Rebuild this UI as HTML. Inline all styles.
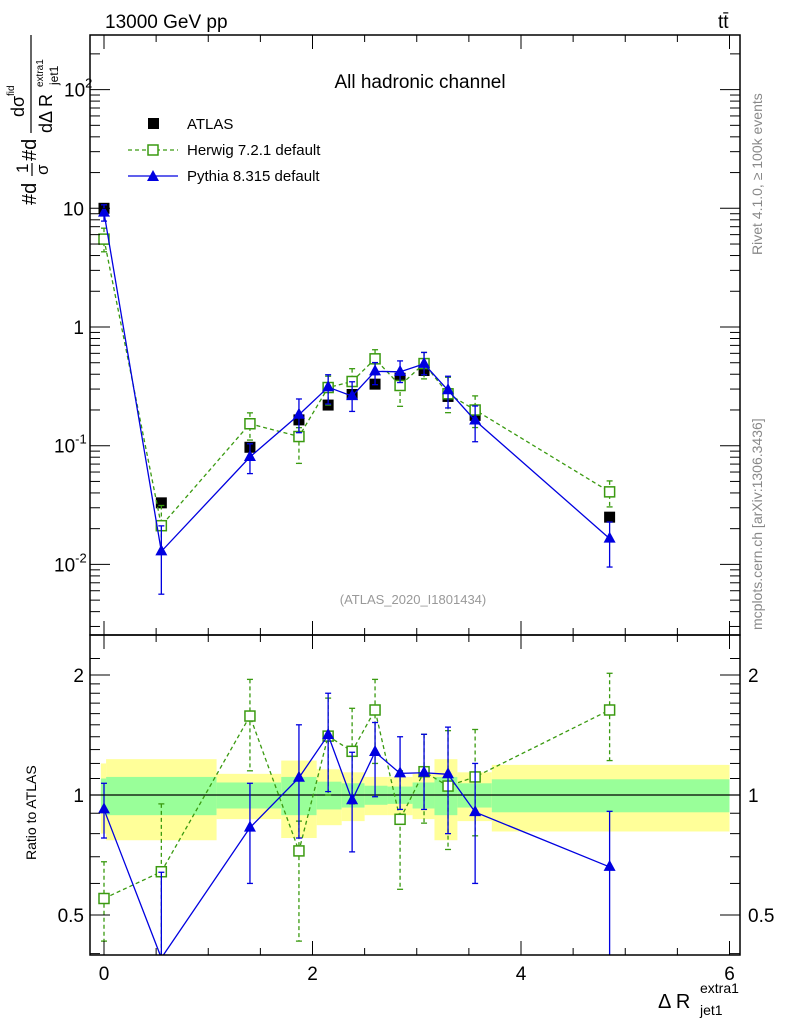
<!DOCTYPE html>
<html><head><meta charset="utf-8"><style>
html,body{margin:0;padding:0;background:#fff;width:786px;height:1024px;overflow:hidden;}
svg{display:block;font-family:"Liberation Sans",Arial,sans-serif;}
</style></head><body>
<svg id="c" width="786" height="1024" viewBox="0 0 786 1024">
<defs id="cdefs"></defs>
<rect x="0" y="0" width="786" height="1024" fill="#fff"/>
<g id="bands"></g>
<g id="marks"></g>
<g id="axes"></g>
<text x="105" y="28" font-size="19">13000 GeV pp</text>
<text x="718" y="28" font-size="19">tt̄</text>
<text x="420" y="88" font-size="19" text-anchor="middle">All hadronic channel</text>
<text x="413" y="604" font-size="13" fill="#999" text-anchor="middle">(ATLAS_2020_I1801434)</text>
<text transform="translate(762,255) rotate(-90)" font-size="14" fill="#888">Rivet 4.1.0, ≥ 100k events</text>
<text transform="translate(762,630) rotate(-90)" font-size="14" fill="#888">mcplots.cern.ch [arXiv:1306.3436]</text>
<g>
  <rect x="148" y="118" width="11" height="11" fill="#000"/>
  <text x="187" y="129" font-size="15">ATLAS</text>
  <line x1="128" y1="150" x2="178" y2="150" stroke="#3a9a10" stroke-width="1.3" stroke-dasharray="4,3"/>
  <rect x="148" y="145" width="10" height="10" fill="#fff" stroke="#3a9a10" stroke-width="1.5"/>
  <text x="187" y="155" font-size="15">Herwig 7.2.1 default</text>
  <line x1="128" y1="176" x2="178" y2="176" stroke="#0000e0" stroke-width="1.3"/>
  <polygon points="153,170 159,181 147,181" fill="#0000e0"/>
  <text x="187" y="181" font-size="15">Pythia 8.315 default</text>
</g>
<g transform="translate(36,205) rotate(-90)">
  <text x="0" y="0" font-size="20">#d</text>
  <text x="32" y="-8" font-size="17">1</text>
  <line x1="29" y1="-4" x2="42" y2="-4" stroke="#000" stroke-width="1.2"/>
  <text x="30" y="12" font-size="17">σ</text>
  <text x="44" y="0" font-size="20">#d</text>
  <text x="88" y="-12" font-size="18">dσ</text>
  <text x="109" y="-22" font-size="10">fid</text>
  <line x1="72" y1="-5" x2="170" y2="-5" stroke="#000" stroke-width="1.2"/>
  <text x="72" y="16" font-size="18">dΔ R</text>
  <text x="120" y="22" font-size="12">jet1</text>
  <text x="118" y="7" font-size="10">extra1</text>
</g>
<text transform="translate(36,860) rotate(-90)" font-size="14">Ratio to ATLAS</text>
<g>
  <text x="658" y="1008" font-size="20">Δ R</text>
  <text x="700" y="1015" font-size="14">jet1</text>
  <text x="700" y="993" font-size="14">extra1</text>
</g>
</svg>
<script>
var xVals=[0.0,0.55,1.4,1.87,2.15,2.38,2.6,2.84,3.07,3.3,3.56,4.85];
var binEdges=[-0.03,0.02,1.08,1.7,2.04,2.28,2.5,2.72,2.96,3.17,3.39,3.72,6.0];
var atlasVals=[10,0.033,0.097,0.165,0.22,0.27,0.33,0.37,0.43,0.26,0.18,0.025];
var statErr=[0.1,0.11,0.075,0.11,0.08,0.07,0.055,0.05,0.075,0.11,0.07,0.095];
var totErr=[0.2,0.23,0.13,0.22,0.16,0.14,0.11,0.11,0.13,0.23,0.14,0.19];
var herwigRatio=[0.55,0.642,1.578,0.724,1.405,1.287,1.634,0.869,1.144,1.053,1.11,1.634];
var herwigUp=[0.68,0.95,1.95,0.86,1.75,1.65,1.95,1.15,1.42,1.45,1.46,2.02];
var herwigDn=[0.43,0.38,1.15,0.43,1.0,0.95,1.2,0.58,0.85,0.73,0.79,1.22];
var pythiaRatio=[0.92,0.39,0.828,1.105,1.414,0.97,1.282,1.133,1.137,1.127,0.906,0.66];
var pythiaUp=[1.07,0.64,1.07,1.5,1.8,1.28,1.52,1.4,1.42,1.48,1.2,0.91];
var pythiaDn=[0.78,0.17,0.6,0.78,1.02,0.72,0.99,0.92,0.92,0.8,0.6,0.38];
var mainTickLabels=["10^2","10","1","10^-1","10^-2"];
var mainTickVals=[100,10,1,0.1,0.01];
var ratioTickVals=[2,1,0.5];
var xTickVals=[0,2,4,6];

(function(){
var NS="http://www.w3.org/2000/svg";
var PL=90,PR=740,PT=35,PMB=635,PRB=955;
function sx(v){return 104+v*104.25;}
function sy(v){return 327-118.7*Math.log10(v);}
function syr(v){return 795-120*Math.log(v)/Math.LN2;}
function mk(tag,attrs,parent){var e=document.createElementNS(NS,tag);for(var k in attrs){e.setAttribute(k,attrs[k]);}parent.appendChild(e);return e;}
function clampY(y,lo,hi){return Math.max(lo,Math.min(hi,y));}
function clipPath(pts,lo,hi){
  var d='',pen=false;
  for(var j=0;j<pts.length-1;j++){
    var ax=pts[j][0],ay=pts[j][1],bx=pts[j+1][0],by=pts[j+1][1];
    var t0=0,t1=1,dy=by-ay;
    if(dy!==0){
      var ta=(lo-ay)/dy,tb=(hi-ay)/dy;
      var tmin=Math.min(ta,tb),tmax=Math.max(ta,tb);
      t0=Math.max(t0,tmin);t1=Math.min(t1,tmax);
    } else if(ay<lo||ay>hi){pen=false;continue;}
    if(t0>t1){pen=false;continue;}
    var sxp=ax+(bx-ax)*t0,syp=ay+dy*t0,exp=ax+(bx-ax)*t1,eyp=ay+dy*t1;
    if(!pen||t0>0){d+='M'+sxp+','+syp;}
    d+=' L'+exp+','+eyp;
    pen=(t1===1);
  }
  return d;
}
var bandsG=document.getElementById('bands'),marksG=document.getElementById('marks'),axesG=document.getElementById('axes');
var i,e;
for(i=0;i<xVals.length;i++){
  var x1=sx(binEdges[i]),x2=sx(binEdges[i+1]);
  e=mk('rect',{x:x1,y:syr(1+totErr[i]),width:x2-x1,height:syr(1-totErr[i])-syr(1+totErr[i]),fill:'#ffff99'},bandsG);
  
  
  e=mk('rect',{x:x1,y:syr(1+statErr[i]),width:x2-x1,height:syr(1-statErr[i])-syr(1+statErr[i]),fill:'#99ff99'},bandsG);
  
  
}
mk('line',{x1:PL,x2:PR,y1:syr(1),y2:syr(1),stroke:'#000','stroke-width':1.3},bandsG);
function drawSeries(ratio,up,dn,color,dash,marker,nm){
  var gm=mk('g',{},marksG);
  var gr=mk('g',{},marksG);
  var mp=[],rp=[],j;
  for(j=0;j<xVals.length;j++){mp.push([sx(xVals[j]),sy(atlasVals[j]*ratio[j])]);rp.push([sx(xVals[j]),syr(ratio[j])]);}
  function st(extra){var o={stroke:color,'stroke-width':1.3,fill:'none'};if(dash){o['stroke-dasharray']=dash;}for(var k in extra){o[k]=extra[k];}return o;}
  var p=mk('path',st({d:clipPath(mp,PT,PMB)}),gm);
  
  
  p=mk('path',st({d:clipPath(rp,PMB,PRB)}),gr);
  
  
  for(j=0;j<xVals.length;j++){
    var a=atlasVals[j];
    var sets=[[gm,sy(a*up[j]),sy(a*dn[j]),mp[j][1],PT,PMB],[gr,syr(up[j]),syr(dn[j]),rp[j][1],PMB,PRB]];
    for(var s=0;s<2;s++){
      var g=sets[s][0],lo=sets[s][4],hi=sets[s][5];
      var yuRaw=sets[s][1],ydRaw=sets[s][2],yc=sets[s][3],cx=sx(xVals[j]);
      var yu=clampY(yuRaw,lo,hi),yd=clampY(ydRaw,lo,hi);
      if(yd>yu){mk('line',st({x1:cx,x2:cx,y1:yu,y2:yd}),g);}
      if(yuRaw>=lo&&yuRaw<=hi){mk('line',{x1:cx-3,x2:cx+3,y1:yu,y2:yu,stroke:color,'stroke-width':1.3},g);}
      if(ydRaw>=lo&&ydRaw<=hi){mk('line',{x1:cx-3,x2:cx+3,y1:yd,y2:yd,stroke:color,'stroke-width':1.3},g);}
      if(yc<lo||yc>hi){continue;}
      var m;
      if(marker==='sq'){m=mk('rect',{x:cx-5,y:yc-5,width:10,height:10,fill:'#fff',stroke:color,'stroke-width':1.5},g);}
      else{m=mk('polygon',{points:cx+','+(yc-7)+' '+(cx+6)+','+(yc+4)+' '+(cx-6)+','+(yc+4),fill:color},g);}
      
      
    }
  }
}
for(i=0;i<xVals.length;i++){
  e=mk('rect',{x:sx(xVals[i])-5.5,y:sy(atlasVals[i])-5.5,width:11,height:11,fill:'#000'},marksG);
  
  
}
drawSeries(herwigRatio,herwigUp,herwigDn,'#3a9a10','4,3','sq','herwig');
drawSeries(pythiaRatio,pythiaUp,pythiaDn,'#0000e0',null,'tri','pythia');
mk('rect',{x:PL,y:PT,width:PR-PL,height:PMB-PT,fill:'none',stroke:'#000','stroke-width':1.5},axesG);
mk('rect',{x:PL,y:PMB,width:PR-PL,height:PRB-PMB,fill:'none',stroke:'#000','stroke-width':1.5},axesG);
function tick(a1,b1,a2,b2){mk('line',{x1:a1,y1:b1,x2:a2,y2:b2,stroke:'#000','stroke-width':1},axesG);}
for(var k=0;k<=12;k++){
  var xx=sx(k*0.5),len=(k%4===0)?14:7;
  tick(xx,PMB,xx,PMB-len);tick(xx,PT,xx,PT+len);
  tick(xx,PRB,xx,PRB-len);tick(xx,PMB,xx,PMB+len);
}
for(i=0;i<xTickVals.length;i++){
  e=mk('text',{x:sx(xTickVals[i]),y:980,'font-size':19,'text-anchor':'middle'},axesG);
  e.textContent=String(xTickVals[i]);
  
  
}
for(var d=-3;d<=2;d++){for(var mm=1;mm<10;mm++){var yy=sy(mm*Math.pow(10,d));if(yy<PT||yy>PMB){continue;}var ln=mm===1?20:10;tick(PL,yy,PL+ln,yy);tick(PR,yy,PR-ln,yy);}}
for(i=0;i<mainTickLabels.length;i++){
  var lab=mainTickLabels[i],y0=sy(mainTickVals[i]),parts=lab.split('^');
  e=mk('text',{x:84,y:y0+7,'font-size':19,'text-anchor':'end'},axesG);
  
  
  if(parts.length>1){e.setAttribute('text-anchor','start');e.setAttribute('x',parts[1].length>1?54:64);
    e.textContent=parts[0];var ts=mk('tspan',{dy:-9,'font-size':13},e);ts.textContent=parts[1];}
  else{e.textContent=lab;}
}
var rmin=[0.4,0.5,0.6,0.7,0.8,0.9,1,1.1,1.2,1.3,1.4,1.5,1.6,1.7,1.8,1.9,2,2.2];
for(i=0;i<rmin.length;i++){var yr=syr(rmin[i]);if(yr<PMB||yr>PRB){continue;}var lr=(rmin[i]===0.5||rmin[i]===1||rmin[i]===2)?20:10;tick(PL,yr,PL+lr,yr);tick(PR,yr,PR-lr,yr);}
for(i=0;i<ratioTickVals.length;i++){
  e=mk('text',{x:84,y:syr(ratioTickVals[i])+7,'font-size':19,'text-anchor':'end'},axesG);
  e.textContent=String(ratioTickVals[i]);
  
  
  e=mk('text',{x:748,y:syr(ratioTickVals[i])+7,'font-size':19,'text-anchor':'start'},axesG);
  e.textContent=String(ratioTickVals[i]);
  
  
}
})();
</script>
</body></html>
